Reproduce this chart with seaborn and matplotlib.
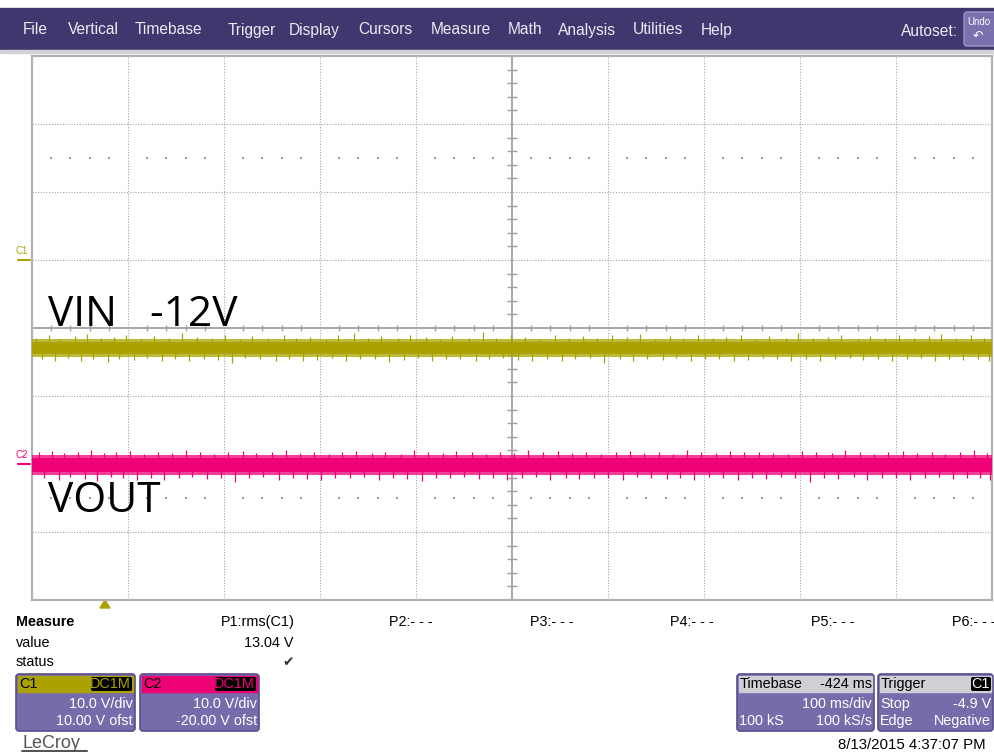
import pandas as pd
import matplotlib.pyplot as plt
import seaborn as sns
from matplotlib.patches import Rectangle, FancyBboxPatch, Polygon

# --- datos ---
menu_items = ['File', 'Vertical', 'Timebase', 'Trigger', 'Display', 'Cursors',
              'Measure', 'Math', 'Analysis', 'Utilities', 'Help']
menu_x = [23, 68, 135, 228, 289, 358, 431, 508, 558, 633, 701]

# tiempo en ms relativo al trigger (100 ms/div, centro en 424 ms)
t_range = [-76, 924]

# C1 (VIN) en voltios
c1_level = -12.9
c1_core = [-13.8, -12.0]
c1_fuzz = [-14.2, -11.6]
c1_up_t = [-72, -58, -47, -31, -19, -4, 9, 22, 38, 51,
           67, 80, 96, 111, 125, 141, 153, 170, 186, 199,
           214, 230, 243, 259, 274, 288, 305, 318, 334, 349,
           362, 379, 394, 407, 423, 438, 452, 469, 483, 498,
           513, 528, 544, 557, 573, 589, 602, 618, 633, 647,
           663, 678, 692, 709, 722, 738, 753, 767, 784, 797,
           813, 827, 843, 858, 871, 887, 902, 916]
c1_up_v = [-11.4, -11.1, -11.6, -11.2, -10.9, -11.5, -11.3, -11.0, -11.6, -11.2,
           -11.4, -10.7, -11.3, -11.5, -11.1, -11.6, -11.2, -11.4, -11.0, -11.5,
           -11.3, -11.6, -11.1, -10.8, -11.4, -11.2, -11.5, -11.0, -11.3, -11.6,
           -11.2, -11.4, -10.6, -11.5, -11.1, -11.3, -11.6, -11.0, -11.4, -11.2,
           -11.5, -11.1, -11.3, -10.9, -11.6, -11.2, -11.4, -11.0, -11.5, -11.3,
           -11.1, -11.6, -11.2, -11.4, -10.8, -11.5, -11.3, -11.1, -11.6, -11.2,
           -11.4, -11.0, -11.5, -11.2, -10.9, -11.4, -11.1, -11.5]
c1_dn_t = [-66, -52, -39, -25, -12, 3, 15, 30, 44, 59,
           73, 88, 103, 118, 132, 146, 161, 178, 192, 206,
           221, 236, 251, 266, 281, 296, 311, 326, 341, 355,
           370, 386, 400, 415, 430, 445, 460, 476, 490, 505,
           520, 536, 550, 565, 581, 595, 610, 625, 640, 655,
           670, 685, 700, 715, 730, 745, 760, 776, 790, 805,
           820, 835, 850, 865, 879, 894, 909, 921]
c1_dn_v = [-14.5, -14.8, -14.4, -14.9, -14.6, -15.0, -14.5, -14.7, -14.4, -14.8,
           -14.6, -14.9, -14.5, -14.7, -15.1, -14.4, -14.6, -14.8, -14.5, -14.9,
           -14.7, -14.4, -14.8, -14.6, -14.5, -15.0, -14.7, -14.4, -14.9, -14.6,
           -14.5, -14.8, -14.6, -14.4, -14.7, -14.9, -14.5, -14.8, -14.6, -14.4,
           -15.2, -14.6, -14.8, -14.5, -14.7, -14.4, -14.9, -14.6, -14.5, -14.8,
           -14.7, -14.4, -14.6, -14.9, -14.5, -14.8, -14.6, -14.4, -14.7, -14.5,
           -14.8, -14.6, -14.4, -14.9, -14.5, -14.7, -14.6, -14.8]

# C2 (VOUT) en voltios
c2_level = -0.1
c2_core = [-1.2, 0.9]
c2_fuzz = [-1.6, 1.3]
c2_up_t = [-69, -55, -43, -28, -15, -1, 12, 26, 41, 55,
           70, 84, 99, 114, 128, 144, 157, 174, 189, 203,
           218, 233, 247, 262, 278, 292, 308, 322, 337, 352,
           366, 382, 397, 411, 426, 441, 456, 472, 486, 501,
           517, 532, 547, 561, 577, 592, 606, 621, 637, 651,
           666, 681, 696, 712, 726, 741, 757, 771, 787, 801,
           816, 831, 846, 861, 875, 891, 905, 919]
c2_up_v = [1.7, 1.9, 1.6, 1.8, 2.0, 1.6, 1.7, 1.9, 1.5, 1.8,
           1.6, 2.0, 1.7, 1.5, 1.8, 1.9, 1.6, 1.7, 2.1, 1.6,
           1.8, 1.5, 1.7, 1.9, 1.6, 1.8, 1.5, 2.0, 1.7, 1.6,
           1.9, 1.7, 1.5, 1.8, 1.6, 2.0, 1.7, 1.9, 1.6, 1.8,
           1.5, 1.7, 1.9, 1.6, 1.8, 1.5, 2.0, 1.7, 1.6, 1.9,
           1.7, 1.8, 1.6, 1.5, 1.9, 1.7, 1.6, 2.0, 1.8, 1.5,
           1.7, 1.9, 1.6, 1.8, 1.5, 1.7, 2.0, 1.6]
c2_dn_t = [-63, -48, -36, -21, -8, 6, 19, 33, 48, 62,
           77, 91, 106, 121, 135, 150, 165, 181, 196, 210,
           225, 240, 255, 270, 285, 300, 315, 330, 345, 359,
           374, 390, 404, 419, 434, 449, 464, 480, 494, 509,
           524, 540, 554, 569, 585, 599, 614, 629, 644, 659,
           674, 689, 704, 719, 734, 749, 764, 780, 794, 809,
           824, 839, 854, 869, 883, 898, 912, 922]
c2_dn_v = [-2.0, -2.3, -1.9, -2.2, -2.5, -1.9, -2.1, -2.3, -2.0, -2.4,
           -2.1, -1.9, -2.2, -2.0, -2.6, -2.1, -1.9, -2.3, -2.0, -2.2,
           -2.4, -2.0, -2.1, -1.9, -2.3, -2.0, -2.2, -2.5, -2.0, -2.1,
           -1.9, -2.2, -2.0, -2.3, -2.1, -1.9, -2.4, -2.0, -2.2, -2.1,
           -2.0, -2.3, -1.9, -2.1, -2.2, -2.0, -2.4, -1.9, -2.1, -2.3,
           -2.0, -2.2, -1.9, -2.1, -2.7, -2.0, -2.2, -1.9, -2.3, -2.0,
           -2.1, -2.4, -2.0, -1.9, -2.2, -2.1, -2.0, -2.3]

# escalas de los canales
volts_per_div = [10.0, 10.0]
offsets = [10.0, -20.0]
ms_per_div = 100
center_ms = 424

C1_COL = '#aaa200'
C2_COL = '#ee0077'
PURPLE = '#42366f'
BOX = '#776bab'
UI_FONT = ['Liberation Sans', 'DejaVu Sans']
FS = 10.4


def to_div(v, ch):
    return (pd.Series(v, dtype=float) + offsets[ch]) / volts_per_div[ch]


sns.set_theme(style='white')
plt.rcParams['font.family'] = UI_FONT

fig = plt.figure(figsize=(9.94, 7.52), dpi=100)
ui = fig.add_axes([0, 0, 1, 1], zorder=0)
ui.set_xlim(0, 994)
ui.set_ylim(752, 0)
ui.axis('off')

# barra de menu
ui.add_patch(Rectangle((0, 8), 994, 42, color=PURPLE))
ui.add_patch(Rectangle((0, 50), 994, 3, color='#d4d4d8'))
for name, x in zip(menu_items, menu_x):
    ui.text(x, 30, name, color='#ecebf3', fontsize=11.2, va='center', ha='left')
ui.text(958, 31, 'Autoset:', color='#ecebf3', fontsize=11.2, va='center', ha='right')
ui.add_patch(FancyBboxPatch((964, 12), 40, 34, boxstyle='round,pad=0,rounding_size=3',
                            fc='#7b70ad', ec='#9d94c8', lw=1))
ui.text(967, 22, 'Undo', color='white', fontsize=7, va='center', ha='left')
ui.text(978, 36, '\u21b6', color='white', fontsize=9, va='center', ha='center',
        family='DejaVu Sans')

# reticula
ax = fig.add_axes([32 / 994, (752 - 600) / 752, 960 / 994, 544 / 752], zorder=2)
ax.set_xlim(t_range)
ax.set_ylim(-4, 4)
ax.set_facecolor('white')
ax.set_xticks([])
ax.set_yticks([])
for s in ax.spines.values():
    s.set_color('#b2b2b2')
    s.set_linewidth(1.6)

for k in range(-4, 5):
    if k != 0:
        ax.axvline(center_ms + k * ms_per_div, color='#a6a6a6', lw=0.8, ls=(0, (1, 1.5)))
for k in range(-3, 4):
    if k != 0:
        ax.axhline(k, color='#a6a6a6', lw=0.8, ls=(0, (1, 1.5)))
ax.axvline(center_ms, color='#a0a0a0', lw=1.3)
ax.axhline(0, color='#a0a0a0', lw=1.3)

# marcas de subdivision en el centro
sub_x = [center_ms + (i / 5) * ms_per_div for i in range(-25, 26) if i % 5 != 0]
ax.vlines(sub_x, -0.05, 0.05, color='#a0a0a0', lw=1.0)
sub_y = [i / 5 for i in range(-20, 21) if i % 5 != 0]
ax.hlines(sub_y, center_ms - 5, center_ms + 5, color='#a0a0a0', lw=1.0)
for yy in (2.5, -2.5):
    ax.scatter(sub_x, [yy] * len(sub_x), s=1.2, color='#9a9a9a', marker='s', lw=0)

# trazas
for ch, col, level, core, fuzz, ut, uv, dt, dv in [
        (0, C1_COL, c1_level, c1_core, c1_fuzz, c1_up_t, c1_up_v, c1_dn_t, c1_dn_v),
        (1, C2_COL, c2_level, c2_core, c2_fuzz, c2_up_t, c2_up_v, c2_dn_t, c2_dn_v)]:
    ax.fill_between(t_range, to_div([fuzz[0]] * 2, ch), to_div([fuzz[1]] * 2, ch),
                    color=col, alpha=0.75, lw=0, zorder=3)
    ax.fill_between(t_range, to_div([core[0]] * 2, ch), to_div([core[1]] * 2, ch),
                    color=col, lw=0, zorder=4)
    ax.vlines(ut, to_div([level] * len(ut), ch), to_div(uv, ch), color=col, lw=0.9, zorder=4)
    ax.vlines(dt, to_div([level] * len(dt), ch), to_div(dv, ch), color=col, lw=0.9, zorder=4)
    df = pd.DataFrame({'t': t_range, 'v': to_div([level] * 2, ch)})
    sns.lineplot(data=df, x='t', y='v', ax=ax, color=col, lw=2, zorder=5)
ax.set_xlabel('')
ax.set_ylabel('')

# anotaciones grandes
big = ['Open Sans', 'DejaVu Sans']
ax.text(48, 326, 'VIN   -12V', transform=ui.transData, fontsize=30.5, family=big,
        color='black', va='baseline', zorder=10)
ax.text(48, 512, 'VOUT', transform=ui.transData, fontsize=30.5, family=big,
        color='black', va='baseline', zorder=10)

# marcadores de canal
ui.text(16, 256, 'C1', color=C1_COL, fontsize=7, va='bottom')
ui.plot([18, 30], [260, 260], color=C1_COL, lw=1.5)
ui.text(16, 460, 'C2', color=C2_COL, fontsize=7, va='bottom')
ui.plot([18, 30], [464, 464], color=C2_COL, lw=1.5)
trig_x = 32 + (0 - t_range[0]) / 1000 * 960
ui.add_patch(Polygon([[trig_x - 5, 608], [trig_x + 5, 608], [trig_x, 600]], color=C1_COL))

# mediciones
ui.text(16, 622, 'Measure', fontsize=FS, fontweight='bold', va='center', color='black')
ui.text(16, 643, 'value', fontsize=FS, va='center', color='black')
ui.text(16, 662, 'status', fontsize=FS, va='center', color='black')
ui.text(295, 622, 'P1:rms(C1)', fontsize=FS, va='center', ha='right', color='black')
ui.text(294, 643, '13.04 V', fontsize=FS, va='center', ha='right', color='black')
ui.text(288, 662, '\u2714', fontsize=10, va='center', ha='center', color='#333333',
        family='DejaVu Sans')
for lbl, x in zip(['P2:- - -', 'P3:- - -', 'P4:- - -', 'P5:- - -', 'P6:- - -'],
                  [389, 530, 670, 811, 952]):
    ui.text(x, 622, lbl, fontsize=FS, va='center', ha='left', color='black')


def box(x0, w, head_col, head_txt, rows, head_txt_col='black'):
    ui.add_patch(FancyBboxPatch((x0, 674), w, 57, boxstyle='round,pad=0,rounding_size=3',
                                fc=BOX, ec='#5a4e8e', lw=1.2))
    ui.add_patch(Rectangle((x0 + 2, 676), w - 4, 16, color=head_col))
    ui.text(x0 + 3, 684, head_txt, fontsize=FS, va='center', color=head_txt_col)
    for left, right, y in rows:
        ui.text(x0 + 2, y, left, fontsize=FS, va='center', ha='left', color='white')
        ui.text(x0 + w - 2, y, right, fontsize=FS, va='center', ha='right', color='white')


box(16, 119, C1_COL, 'C1', [('', '10.0 V/div', 704), ('', '10.00 V ofst', 721)])
box(140, 119, C2_COL, 'C2', [('', '10.0 V/div', 704), ('', '-20.00 V ofst', 721)])
for x0, col in [(16, C1_COL), (140, C2_COL)]:
    ui.add_patch(FancyBboxPatch((x0 + 75, 677), 41, 14, boxstyle='round,pad=0,rounding_size=2',
                                fc='black', ec='none'))
    ui.text(x0 + 115, 684, 'DC1M', fontsize=FS, va='center', ha='right', color=col)

box(737, 137, '#cfcfd6', 'Timebase', [('', '100 ms/div', 704), ('100 kS', '100 kS/s', 721)])
ui.text(872, 684, '-424 ms', fontsize=FS, va='center', ha='right', color='black')
box(878, 115, '#cfcfd6', 'Trigger', [('Stop', '-4.9 V', 704), ('Edge', 'Negative', 721)])
ui.add_patch(FancyBboxPatch((971, 677), 20, 14, boxstyle='round,pad=0,rounding_size=2',
                            fc='black', ec='none'))
ui.text(981, 684, 'C1', fontsize=FS, va='center', ha='center', color='white')

ui.text(22, 743, 'LeCroy', fontsize=13, va='center', ha='left', color='#555555')
ui.plot([22, 87], [751, 751], color='#555555', lw=1.5)
ui.text(986, 745, '8/13/2015 4:37:07 PM', fontsize=10.8, va='center', ha='right', color='black')

fig.savefig('out.png', dpi=100)
